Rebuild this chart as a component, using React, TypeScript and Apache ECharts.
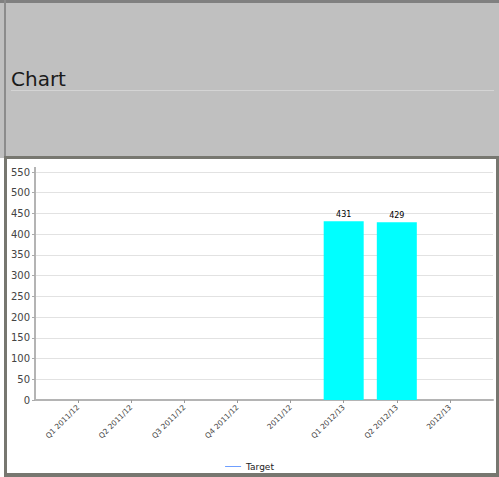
import React, { useEffect, useRef } from "react";
import * as echarts from "echarts";

const categories = ["Q1 2011/12", "Q2 2011/12", "Q3 2011/12", "Q4 2011/12", "2011/12", "Q1 2012/13", "Q2 2012/13", "2012/13"];
const actualValues: (number | null)[] = [null, null, null, null, null, 431, 429, null];
const targetValues: (number | null)[] = [null, null, null, null, null, null, null, null];
const yTicks = { min: 0, max: 550, interval: 50 };
const titleText = "Chart";

export default function App() {
  const ref = useRef<HTMLDivElement>(null);
  useEffect(() => {
    document.body.style.margin = "0";
    const chart = echarts.init(ref.current!, null, { renderer: "svg" });
    const font = "DejaVu Sans";
    chart.setOption({
      animation: false,
      backgroundColor: "#ffffff",
      title: {
        text: titleText,
        left: 6,
        top: 64,
        textStyle: { fontFamily: font, fontSize: 20, fontWeight: "normal", color: "#1a1a1a" },
      },
      graphic: [
        { type: "rect", z: -10, shape: { x: 0, y: 0, width: 499, height: 158 }, style: { fill: "#c0c0c0" } },
        { type: "rect", z: -9, shape: { x: 0, y: 0, width: 499, height: 3 }, style: { fill: "#808080" } },
        { type: "rect", z: -9, shape: { x: 4, y: 0, width: 2, height: 158 }, style: { fill: "#8c8c8c" } },
        { type: "rect", z: -9, shape: { x: 4, y: 156, width: 495, height: 3 }, style: { fill: "#777770" } },
        { type: "rect", z: -9, shape: { x: 4, y: 158, width: 3, height: 319 }, style: { fill: "#777770" } },
        { type: "rect", z: -9, shape: { x: 496, y: 158, width: 3, height: 319 }, style: { fill: "#777770" } },
        { type: "rect", z: -9, shape: { x: 4, y: 473, width: 495, height: 4 }, style: { fill: "#777770" } },
        { type: "line", z: -8, shape: { x1: 11, y1: 90.5, x2: 494, y2: 90.5 }, style: { stroke: "#d4d4d4", lineWidth: 1 } },
        { type: "line", z: 5, shape: { x1: 35, y1: 167, x2: 35, y2: 172 }, style: { stroke: "#b4b4b4", lineWidth: 2 } },
      ],
      legend: {
        data: ["Target"],
        left: "center",
        top: 457,
        icon: "rect",
        itemWidth: 16,
        itemHeight: 1,
        itemGap: 4,
        textStyle: { fontFamily: font, fontSize: 9, color: "#222" },
      },
      grid: [
        { left: 35, right: 6, top: 172, bottom: 77 },
        { left: 51.5, right: 22.5, top: 172, bottom: 77 },
      ],
      xAxis: [
        {
          gridIndex: 0,
          type: "value",
          min: 0,
          max: 1,
          axisLine: { show: true, lineStyle: { color: "#b4b4b4", width: 2 } },
          axisTick: { show: false },
          axisLabel: { show: false },
          splitLine: { show: false },
        },
        {
          gridIndex: 1,
          type: "category",
          data: categories,
          axisLine: { show: false },
          axisTick: { show: true, alignWithLabel: true, length: 3, lineStyle: { color: "#999" } },
          axisLabel: { rotate: 45, interval: 0, fontFamily: font, fontSize: 7.5, color: "#444", margin: 6 },
          splitLine: { show: false },
        },
      ],
      yAxis: [
        {
          gridIndex: 0,
          type: "value",
          min: yTicks.min,
          max: yTicks.max,
          interval: yTicks.interval,
          axisLine: { show: true, lineStyle: { color: "#b4b4b4", width: 2 } },
          axisTick: { show: true, length: 3, lineStyle: { color: "#aaa" } },
          axisLabel: { fontFamily: font, fontSize: 10, color: "#444", margin: 5 },
          splitLine: { show: true, lineStyle: { color: "#e2e2e2", width: 1 } },
        },
        {
          gridIndex: 1,
          type: "value",
          min: yTicks.min,
          max: yTicks.max,
          interval: yTicks.interval,
          show: false,
        },
      ],
      series: [
        {
          name: "Actual",
          type: "bar",
          xAxisIndex: 1,
          yAxisIndex: 1,
          data: actualValues,
          barWidth: 40,
          itemStyle: { color: "#00ffff" },
          label: { show: true, position: "top", distance: 3, fontFamily: font, fontSize: 8, color: "#000" },
        },
        {
          name: "Target",
          type: "line",
          xAxisIndex: 1,
          yAxisIndex: 1,
          data: targetValues,
          symbol: "none",
          itemStyle: { color: "#6f9fff" },
          lineStyle: { color: "#6f9fff", width: 1 },
        },
      ],
    });
    return () => chart.dispose();
  }, []);
  return <div ref={ref} style={{ position: "absolute", left: 0, top: 0, width: 499, height: 477 }} />;
}
